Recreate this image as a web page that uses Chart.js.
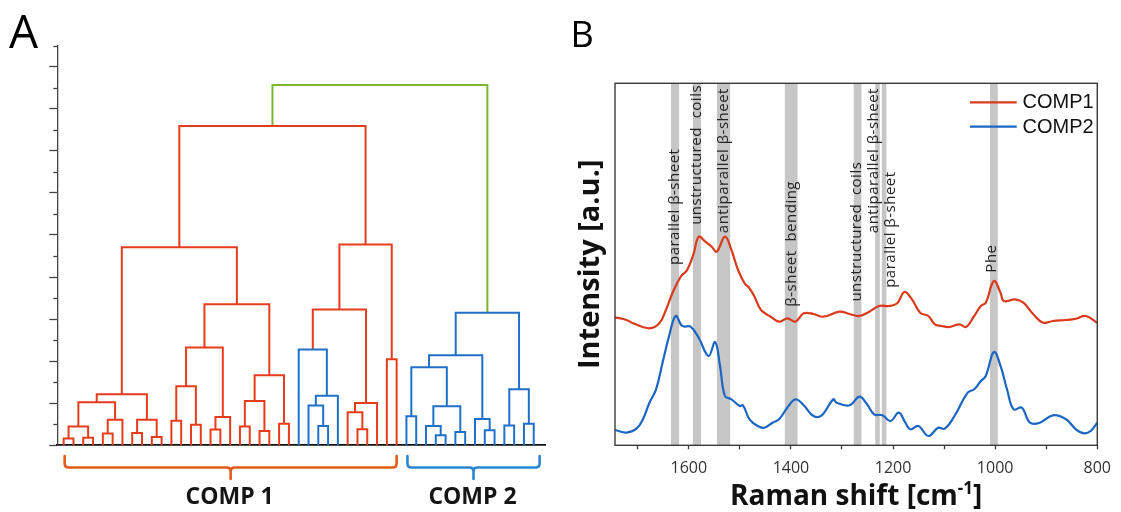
<!DOCTYPE html>
<html><head><meta charset="utf-8">
<script src="https://cdn.jsdelivr.net/npm/chart.js@4.4.1/dist/chart.umd.min.js"></script>
<style>
html,body{margin:0;padding:0;background:#fff;width:1121px;height:512px;overflow:hidden}
#a{position:absolute;left:0;top:0;width:560px;height:512px}
#b{position:absolute;left:560px;top:0;width:561px;height:512px}
</style></head><body>
<canvas id="a" width="560" height="512"></canvas>
<canvas id="b" width="561" height="512"></canvas>
<script>
// ---------- Panel A data: hierarchical clustering (leaf order 0..48, clusters numbered 49+k) ----------
const leafCount = 49;
const linkA = [0,2,49,4,52,51,7,9,55,54,11,13,59,15,62,61,18,20,65,22,67,64,58,26,25,73,24,30,29,77,75,33,79,71,35,38,37,40,85,83,43,42,88,45,47,92,91,82];
const linkB = [1,3,50,5,6,53,8,10,56,57,12,14,60,16,17,63,19,21,66,23,68,69,70,27,72,28,74,31,76,32,78,34,80,81,36,39,84,41,86,87,44,89,90,46,48,93,94,95];
const linkHeight = [0.32,0.36,0.89,0.56,1.22,2.05,0.59,0.40,1.22,2.43,1.17,0.98,2.81,0.75,1.35,4.65,0.89,0.68,2.11,1.03,3.33,6.71,9.42,0.92,1.89,2.36,4.55,0.76,1.57,2.01,6.46,4.09,9.55,15.18,1.38,0.48,0.92,0.63,1.86,3.71,0.71,1.25,4.28,0.94,1.03,2.66,6.30,17.13];
const linkGroup = ['r','r','r','r','r','r','r','r','r','r','r','r','r','r','r','r','r','r','r','r','r','r','r','b','b','b','b','r','r','r','r','r','r','r','b','b','b','b','b','b','b','b','b','b','b','b','b','g'];
const heightTickMax = 19;
const clusterNames = ['COMP 1','COMP 2'];
const clusterFirstLeaf = [0, 35];
const clusterLastLeaf = [34, 48.6];

// ---------- Panel B data: Raman spectra ----------
const comp1Shift = [1744.6,1722,1709.3,1677.1,1657.8,1644.9,1632.2,1616,1603.3,1590.4,1580.7,1567.8,1555.1,1545.4,1529.3,1516.5,1503.6,1490.7,1481.1,1471.4,1458.7,1439.4,1423.2,1407.2,1391.2,1375,1355.8,1336.5,1304.5,1285.2,1265.9,1246.7,1227.4,1208.1,1191.9,1177.8,1163,1147,1131,1118.1,1105.2,1089.2,1069.9,1057,1041,1028,1018.4,1002.4,989.5,983.1,960.6,944.6,925.3,906,886.8,861.1,841.9,822.6,800];
const comp1Intensity = [35.36,34.61,33.7,32.32,33.7,37.38,41.99,46.57,48.43,53.04,57.62,56.24,54.86,53.48,57.62,53.95,48.43,44.75,43.37,41.05,37.38,35.52,34.14,35.08,34.14,36.46,36.27,35.52,36.91,36.27,35.72,36.91,38.48,38.48,39.23,42.35,40.33,36.63,35.72,33.43,32.96,32.68,33.43,32.68,35.72,38.48,39.39,45.39,42.15,39.86,40.33,39.39,36.19,33.87,34.34,34.61,34.97,35.72,33.87];
const comp2Shift = [1744.6,1722,1702.7,1690,1677.1,1664.2,1651.5,1638.6,1625.6,1612.9,1596.7,1580.7,1561.4,1548.5,1538.9,1529.3,1516.5,1500.3,1494,1481.1,1465.1,1452.1,1436.1,1423.2,1407.2,1391.2,1375,1355.8,1339.8,1317.2,1310.9,1285.2,1265.9,1253,1237,1220.8,1204.8,1188.8,1175.9,1166.3,1150.3,1131,1111.7,1098.8,1079.6,1053.9,1041,1028,1018.4,1002.4,989.5,976.8,963.9,947.9,931.7,912.4,886.8,861.1,841.9,825.7,813,800];
const comp2Intensity = [4.23,3.48,4.59,7.18,11.77,15.47,22.82,30.19,35.72,32.96,32.76,29.72,24.67,28.54,21.91,13.62,12.71,10.86,11.05,7.18,5.33,4.86,6.24,7.18,10.39,12.71,11.05,8.09,8.29,12.71,11.77,11.05,13.43,11.77,8.56,8.29,6.71,9.01,6.24,4.42,5.33,2.57,4.86,4.59,8.09,14.53,15.47,17.76,19.14,25.77,21.91,15.47,9.94,10.39,6.24,6.24,8.29,7.18,4.42,3.31,3.95,6.24];
const bandFrom = [1619,1576,1519,1387,1262,1226,1213,995];
const bandTo   = [1635,1592,1545,1412,1277,1235,1222,1010];
const bandNames = ['parallel β-sheet','unstructured  coils','antiparallel β-sheet','β-sheet  bending','unstructured  coils','antiparallel β-sheet','parallel β-sheet','Phe'];
const xTickLabels = [1600,1400,1200,1000,800];

// ---------- layout / style (not data) ----------
const labelAnchorShift = [1627,1584,1532,1399,1271,1238,1205,1007];
const labelAnchorLevel = [49.8,60.9,58.6,38.3,39.7,58.6,43.5,47.7];
const COL = {r:'#e63c1e', b:'#1f70c8', g:'#7cb530'};
const C1 = '#d93a1b', C2 = '#1b66c2';

// ---------- Panel A ----------
const pos = [], hgt = [];
for (let i = 0; i < leafCount; i++) { pos[i] = i; hgt[i] = 0; }
linkA.forEach((a, k) => {
  const b = linkB[k];
  pos[leafCount + k] = (pos[a] + pos[b]) / 2;
  hgt[leafCount + k] = linkHeight[k];
});
const dendroSets = linkA.map((a, k) => {
  const b = linkB[k], H = linkHeight[k];
  return {
    data: [{x: pos[a], y: hgt[a]}, {x: pos[a], y: H}, {x: pos[b], y: H}, {x: pos[b], y: hgt[b]}],
    showLine: true, borderColor: COL[linkGroup[k]], borderWidth: 2, pointRadius: 0, tension: 0,
    borderCapStyle: 'butt', borderJoinStyle: 'miter', clip: false
  };
});

const dendroPlugin = {
  id: 'dendroDeco',
  afterDraw(chart) {
    const ctx = chart.ctx, ys = chart.scales.y, xs = chart.scales.x;
    ctx.save();
    ctx.strokeStyle = '#444'; ctx.lineWidth = 1.3;
    for (let v = 1; v <= heightTickMax; v += 2) {
      const y = Math.round(ys.getPixelForValue(v)) + 0.5;
      ctx.beginPath(); ctx.moveTo(chart.chartArea.left - 4, y); ctx.lineTo(chart.chartArea.left, y); ctx.stroke();
    }
    const bcol = ['#e25a1c', '#2a86d2'];
    clusterNames.forEach((name, i) => {
      const xl = xs.getPixelForValue(clusterFirstLeaf[i]) + 1;
      const xr = xs.getPixelForValue(clusterLastLeaf[i]);
      const xc = (xl + xr) / 2;
      const y0 = 456, ym = 467.5, yt = 479, r = 4;
      ctx.strokeStyle = bcol[i]; ctx.lineWidth = 2.6; ctx.lineCap = 'round'; ctx.lineJoin = 'round';
      ctx.beginPath();
      ctx.moveTo(xl, y0); ctx.lineTo(xl, ym - r); ctx.quadraticCurveTo(xl, ym, xl + r, ym);
      ctx.lineTo(xc - r, ym); ctx.quadraticCurveTo(xc, ym, xc, ym + r); ctx.lineTo(xc, yt);
      ctx.moveTo(xc, ym + r); ctx.quadraticCurveTo(xc, ym, xc + r, ym);
      ctx.lineTo(xr - r, ym); ctx.quadraticCurveTo(xr, ym, xr, ym - r); ctx.lineTo(xr, y0);
      ctx.stroke();
      ctx.fillStyle = '#151515'; ctx.font = 'bold 23px "Open Sans"';
      ctx.textAlign = 'center'; ctx.textBaseline = 'alphabetic';
      ctx.fillText(name, xc - 1, 504);
    });
    ctx.fillStyle = '#000'; ctx.font = '46px "Open Sans"'; ctx.textAlign = 'left';
    ctx.fillText('A', 9, 47.5);
    ctx.restore();
  }
};

new Chart(document.getElementById('a'), {
  type: 'scatter',
  data: {datasets: dendroSets},
  options: {
    responsive: false, animation: false, events: [],
    layout: {padding: {left: 47.3, right: 15, top: 45.7, bottom: 66.7}},
    plugins: {legend: {display: false}, tooltip: {enabled: false}},
    scales: {
      x: {type: 'linear', min: -0.65, max: 49.15,
          ticks: {display: false}, grid: {display: false},
          border: {display: true, color: '#111', width: 1.8},
          afterFit(s) { s.height = 0; }},
      y: {type: 'linear', min: 0, max: heightTickMax,
          ticks: {display: false, stepSize: 1},
          grid: {display: true, drawOnChartArea: false, drawTicks: true, tickLength: 8, tickWidth: 1.3,
                 tickColor: c => (c.tick && c.tick.value % 2 === 0) ? '#444' : 'rgba(0,0,0,0)'},
          border: {display: true, color: '#444', width: 1.3},
          afterFit(s) { s.width = 10; }}
    }
  },
  plugins: [dendroPlugin]
});

// ---------- Panel B ----------
const specPlugin = {
  id: 'specDeco',
  beforeDatasetsDraw(chart) {
    const ctx = chart.ctx, xs = chart.scales.x, ys = chart.scales.y, a = chart.chartArea;
    ctx.save();
    ctx.fillStyle = '#c6c6c6';
    bandFrom.forEach((f, i) => {
      const x1 = xs.getPixelForValue(bandTo[i]), x2 = xs.getPixelForValue(f);
      ctx.fillRect(x1, a.top, x2 - x1, a.bottom - a.top);
    });
    ctx.fillStyle = '#222'; ctx.font = '15px "Open Sans"';
    if ('letterSpacing' in ctx) ctx.letterSpacing = '0.5px';
    ctx.textAlign = 'left'; ctx.textBaseline = 'middle';
    bandNames.forEach((t, i) => {
      const x = xs.getPixelForValue(labelAnchorShift[i]), y = ys.getPixelForValue(labelAnchorLevel[i]);
      ctx.save(); ctx.translate(x, y); ctx.rotate(-Math.PI / 2); ctx.fillText(t, 0, 0); ctx.restore();
    });
    if ('letterSpacing' in ctx) ctx.letterSpacing = '0px';
    ctx.restore();
  },
  afterDraw(chart) {
    const ctx = chart.ctx, a = chart.chartArea;
    ctx.save();
    ctx.strokeStyle = '#3a3a3a'; ctx.lineWidth = 1.4;
    ctx.strokeRect(a.left, a.top, a.right - a.left, a.bottom - a.top);
    chart.data.datasets.forEach((ds, i) => {
      const y = a.top + 19 + i * 24.4;
      ctx.strokeStyle = ds.borderColor; ctx.lineWidth = 2.2;
      ctx.beginPath(); ctx.moveTo(410, y); ctx.lineTo(456.7, y); ctx.stroke();
      ctx.fillStyle = '#111'; ctx.font = '20px "Liberation Sans"';
      ctx.textAlign = 'left'; ctx.textBaseline = 'middle';
      ctx.fillText(ds.label, 462.5, y + 0.5);
    });
    ctx.save();
    ctx.translate(30.5, (a.top + a.bottom) / 2);
    ctx.rotate(-Math.PI / 2);
    ctx.fillStyle = '#111'; ctx.font = 'bold 29px "Open Sans"';
    ctx.textAlign = 'center'; ctx.textBaseline = 'middle';
    ctx.fillText('Intensity [a.u.]', 0, 0);
    ctx.restore();
    const main = 'Raman shift [cm', sup = '-1', end = ']';
    ctx.fillStyle = '#111'; ctx.textBaseline = 'alphabetic'; ctx.textAlign = 'left';
    ctx.font = 'bold 28px "Open Sans"';
    const w1 = ctx.measureText(main).width, w3 = ctx.measureText(end).width;
    ctx.font = 'bold 17px "Open Sans"';
    const w2 = ctx.measureText(sup).width;
    let x0 = (a.left + a.right) / 2 - (w1 + w2 + w3) / 2;
    const base = 505;
    ctx.font = 'bold 28px "Open Sans"'; ctx.fillText(main, x0, base);
    ctx.font = 'bold 17px "Open Sans"'; ctx.fillText(sup, x0 + w1, base - 11);
    ctx.font = 'bold 28px "Open Sans"'; ctx.fillText(end, x0 + w1 + w2, base);
    ctx.fillStyle = '#000'; ctx.font = '36px "Open Sans"';
    ctx.fillText('B', 10.5, 46.7);
    ctx.restore();
  }
};

new Chart(document.getElementById('b'), {
  type: 'line',
  data: {datasets: [
    {label: 'COMP1', data: comp1Shift.map((x, i) => ({x, y: comp1Intensity[i]})), borderColor: C1, borderWidth: 2.2, pointRadius: 0, tension: 0.4},
    {label: 'COMP2', data: comp2Shift.map((x, i) => ({x, y: comp2Intensity[i]})), borderColor: C2, borderWidth: 2.2, pointRadius: 0, tension: 0.4}
  ]},
  options: {
    responsive: false, animation: false, events: [],
    layout: {padding: {left: 55, right: 16, top: 83.3, bottom: 0}},
    plugins: {legend: {display: false}, tooltip: {enabled: false}},
    scales: {
      x: {type: 'linear', reverse: true, min: 800, max: 1744.6,
          ticks: {stepSize: 100, includeBounds: false, autoSkip: false, maxRotation: 0,
                  callback: v => xTickLabels.includes(v) ? String(v) : '',
                  font: {family: '"Open Sans"', size: 16}, color: '#333', padding: 10},
          grid: {display: true, drawOnChartArea: false, drawTicks: true, tickLength: 4, tickColor: '#3a3a3a', tickWidth: 1.3},
          border: {display: false},
          afterFit(s) { s.height = 66.7; }},
      y: {display: false, min: 0, max: 100}
    }
  },
  plugins: [specPlugin]
});
</script></body></html>
